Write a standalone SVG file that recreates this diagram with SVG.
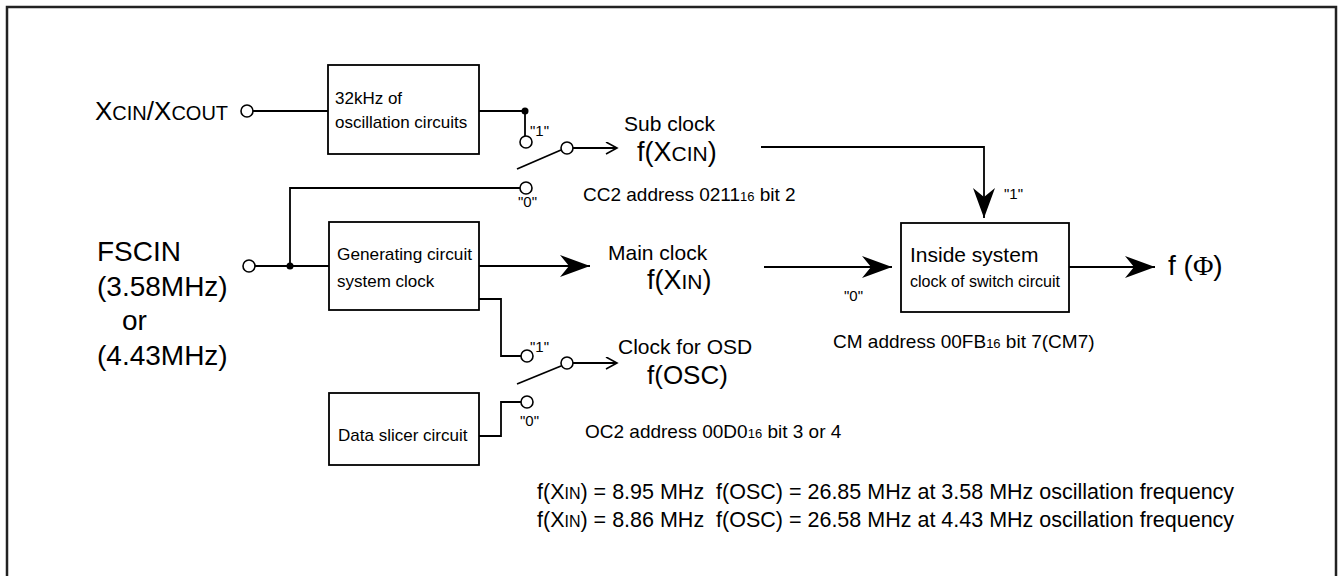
<svg xmlns="http://www.w3.org/2000/svg" width="1340" height="576" viewBox="0 0 1340 576">
<style>
text{font-family:"Liberation Sans",Arial,sans-serif;fill:#000}
.ln{fill:none;stroke:#000;stroke-width:1.8}
.box{fill:#fff;stroke:#000;stroke-width:1.8}
.term{fill:#fff;stroke:#000;stroke-width:1.6}
.dot{fill:#000}
.big{font-size:28px}
.mid{font-size:21px}
.fx{font-size:27px}
.sm{font-size:21px}
.addr{font-size:19px}
.sub{font-size:13px}
.bx{font-size:17px}
.q{font-size:15px}
.note{font-size:21.5px;white-space:pre}
</style>
<defs>
<marker id="ah" markerUnits="userSpaceOnUse" markerWidth="32" markerHeight="24" refX="30" refY="11" orient="auto">
<path d="M0,0 L30,11 L0,22 L9,11 Z" fill="#000"/>
</marker>
<marker id="oa" markerUnits="userSpaceOnUse" markerWidth="14" markerHeight="14" refX="12" refY="6" orient="auto">
<path d="M1,0 L12,6 L1,12" fill="none" stroke="#000" stroke-width="1.6"/>
</marker>
</defs>
<rect x="7" y="7" width="1329" height="620" fill="#fff" stroke="#222" stroke-width="2.5"/>

<g id="connectors">
<path class="ln" d="M253,111 H328"/>
<path class="ln" d="M479,111 H525 V136"/>
<path class="ln" d="M290,266 V188 H520"/>
<path class="ln" d="M255,266 H329"/>
<path class="ln" d="M517,169 L561,150"/>
<path class="ln" d="M573,148 H617" marker-end="url(#oa)"/>
<path class="ln" d="M761,147 H984 V218" marker-end="url(#ah)"/>
<path class="ln" d="M479,266 H590" marker-end="url(#ah)"/>
<path class="ln" d="M764,267 H892" marker-end="url(#ah)"/>
<path class="ln" d="M1069,267 H1155" marker-end="url(#ah)"/>
<path class="ln" d="M479,299 H501 V356 H521"/>
<path class="ln" d="M479,436 H501 V402 H521"/>
<path class="ln" d="M517,384 L561,366"/>
<path class="ln" d="M573,363 H617" marker-end="url(#oa)"/>
</g>

<g id="xcin">
<circle class="term" cx="247" cy="111" r="6"/>
<text x="95" y="120"><tspan font-size="26">X</tspan><tspan font-size="20">CIN</tspan><tspan font-size="26">/X</tspan><tspan font-size="20">COUT</tspan></text>
</g>

<g id="osc32">
<rect class="box" x="328" y="65" width="151" height="89"/>
<text class="bx" x="335" y="104">32kHz of</text>
<text class="bx" x="335" y="128">oscillation circuits</text>
</g>

<g id="subswitch">
<circle class="dot" cx="525" cy="111" r="3.5"/>
<circle class="term" cx="526" cy="142" r="6"/>
<circle class="term" cx="526" cy="188" r="6"/>
<circle class="term" cx="567" cy="148" r="6"/>
<text class="q" x="530" y="136">"1"</text>
<text class="q" x="518" y="207">"0"</text>
</g>

<g id="subclock">
<text class="mid" x="624" y="131">Sub clock</text>
<text x="637" y="161"><tspan class="fx">f(X</tspan><tspan class="sm">CIN</tspan><tspan class="fx">)</tspan></text>
<text class="addr" x="583" y="201">CC2 address 0211<tspan class="sub">16</tspan> bit 2</text>
</g>

<g id="fscin">
<circle class="term" cx="249" cy="266" r="6"/>
<circle class="dot" cx="290" cy="266" r="3.5"/>
<text class="big" x="97" y="261">FSCIN</text>
<text class="big" x="97" y="296">(3.58MHz)</text>
<text class="big" x="122" y="330">or</text>
<text class="big" x="97" y="365">(4.43MHz)</text>
</g>

<g id="gen">
<rect class="box" x="329" y="222" width="150" height="88"/>
<text class="bx" x="337" y="260" textLength="135" lengthAdjust="spacingAndGlyphs">Generating circuit</text>
<text class="bx" x="337" y="287">system clock</text>
</g>

<g id="mainclock">
<text class="mid" x="608" y="260">Main clock</text>
<text x="647" y="289"><tspan class="fx">f(X</tspan><tspan class="sm">IN</tspan><tspan class="fx">)</tspan></text>
</g>

<g id="inside">
<rect class="box" x="901" y="223" width="168" height="89"/>
<text class="mid" x="910" y="262">Inside system</text>
<text x="910" y="287" font-size="17" textLength="150" lengthAdjust="spacingAndGlyphs">clock of switch circuit</text>
<text class="q" x="1004" y="199">"1"</text>
<text class="q" x="844" y="301">"0"</text>
<text class="addr" x="833" y="348">CM address 00FB<tspan class="sub">16</tspan> bit 7(CM7)</text>
</g>

<g id="fphi">
<text x="1168" y="275" font-size="28">f (<tspan font-family="'Liberation Serif',serif">Φ</tspan>)</text>
</g>

<g id="osdswitch">
<circle class="term" cx="527" cy="356" r="6"/>
<circle class="term" cx="527" cy="402" r="6"/>
<circle class="term" cx="567" cy="363" r="6"/>
<text class="q" x="530" y="352">"1"</text>
<text class="q" x="520" y="426">"0"</text>
</g>

<g id="osd">
<text class="mid" x="618" y="354">Clock for OSD</text>
<text x="647" y="384" font-size="26">f(OSC)</text>
<text class="addr" x="585" y="438">OC2 address 00D0<tspan class="sub">16</tspan> bit 3 or 4</text>
</g>

<g id="slicer">
<rect class="box" x="329" y="393" width="150" height="72"/>
<text class="bx" x="338" y="441">Data slicer circuit</text>
</g>

<g id="notes">
<text class="note" x="537" y="499">f(X<tspan font-size="16">IN</tspan>) = 8.95 MHz  f(OSC) = 26.85 MHz at 3.58 MHz oscillation frequency</text>
<text class="note" x="537" y="527">f(X<tspan font-size="16">IN</tspan>) = 8.86 MHz  f(OSC) = 26.58 MHz at 4.43 MHz oscillation frequency</text>
</g>
</svg>
